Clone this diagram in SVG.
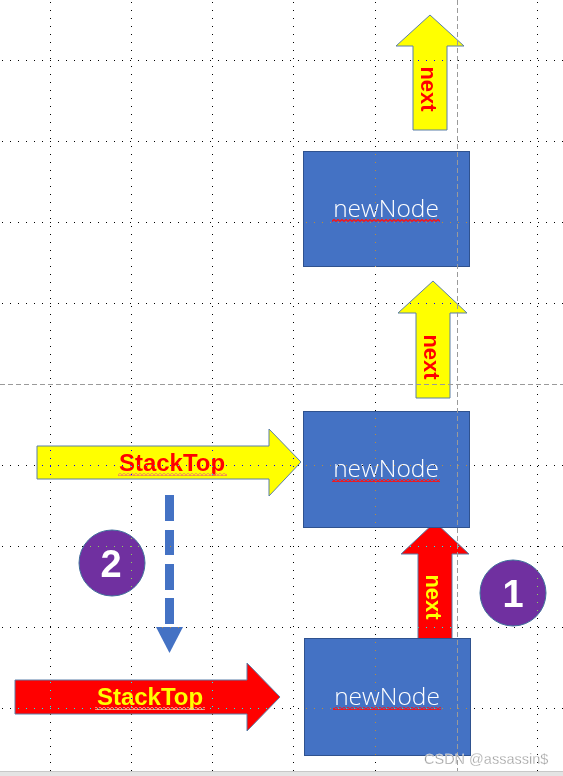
<svg xmlns="http://www.w3.org/2000/svg" width="563" height="776" viewBox="0 0 563 776">
<style>
.box{fill:#4472C4;stroke:#2F528F;stroke-width:1}
.node{font-family:"Open Sans","Noto Sans","Liberation Sans",sans-serif;font-weight:300;font-size:24.5px;fill:#fff;text-anchor:middle}
.arr{stroke:#5B7FA8;stroke-width:1}
.yel{fill:#FFFF00}
.red{fill:#FF0000}
.lbl{font-family:"Liberation Sans",Arial,sans-serif;font-weight:bold;text-anchor:middle}
.grid{stroke:#fff;stroke-width:1;stroke-dasharray:1 7;mix-blend-mode:difference}
.guide{stroke:#9a9a9a;stroke-width:1;stroke-dasharray:5 3;fill:none}
.num{font-family:"Liberation Sans",Arial,sans-serif;font-weight:bold;font-size:38px;fill:#fff;text-anchor:middle}
</style>
<defs>
<pattern id="wavyR" patternUnits="userSpaceOnUse" width="4" height="3"><path d="M0,2.5 L2,0.5 L4,2.5" stroke="#FF1010" stroke-width="1.3" fill="none"/></pattern>
<pattern id="wavyO" patternUnits="userSpaceOnUse" width="4" height="3"><path d="M0,2.5 L2,0.5 L4,2.5" stroke="#F08060" stroke-width="1.1" fill="none"/></pattern>
<pattern id="wavyY" patternUnits="userSpaceOnUse" width="4" height="3"><path d="M0,2.5 L2,0.5 L4,2.5" stroke="#F8C0A0" stroke-width="1.1" fill="none"/></pattern>
</defs>
<rect x="0" y="0" width="563" height="776" fill="#fff"/>

<g id="connectors">
  <g id="next-top">
    <path class="arr yel" d="M413,130 L413,46 L396,46 L430,15 L464,46 L447,46 L447,130 Z"/>
    <text class="lbl" font-size="22" fill="#FF0000" transform="translate(428,89) rotate(90)" x="0" y="7">next</text>
  </g>
  <g id="next-mid">
    <path class="arr yel" d="M416,398 L416,313 L398,313 L433,281 L467,313 L450,313 L450,398 Z"/>
    <text class="lbl" font-size="22" fill="#FF0000" transform="translate(431,357) rotate(90)" x="0" y="7">next</text>
  </g>
  <g id="next-new">
    <path class="arr red" d="M418,640 L418,554 L401,554 L435,522 L469,554 L452,554 L452,640 Z"/>
    <text class="lbl" font-size="22" fill="#FFFF00" transform="translate(433,597) rotate(90)" x="0" y="7">next</text>
  </g>
  <g id="stacktop-old">
    <path class="arr yel" d="M37,446 L269,446 L269,429 L301,462 L269,496 L269,479 L37,479 Z"/>
    <text class="lbl" font-size="24" fill="#FF0000" x="172" y="471">StackTop</text>
    <rect x="118" y="473" width="109" height="3" fill="url(#wavyO)"/>
  </g>
  <g id="stacktop-new">
    <path class="arr red" d="M15,680 L247,680 L247,663 L280,697 L247,731 L247,714 L15,714 Z"/>
    <text class="lbl" font-size="24" fill="#FFFF00" x="150" y="705">StackTop</text>
    <rect x="95" y="707" width="110" height="3" fill="url(#wavyY)"/>
  </g>
  <g id="move-down" fill="#4472C4">
    <rect x="165" y="495" width="9" height="26"/>
    <rect x="165" y="530" width="9" height="25"/>
    <rect x="165" y="564" width="9" height="26"/>
    <rect x="165" y="598" width="9" height="26"/>
    <path d="M156,627 L183,627 L169.5,653 Z"/>
  </g>
</g>

<g id="node-top">
  <rect class="box" x="303.5" y="151.5" width="166" height="115"/>
  <text class="node" x="386" y="217">newNode</text>
  <rect x="332" y="219" width="108" height="3" fill="url(#wavyR)"/>
</g>
<g id="node-mid">
  <rect class="box" x="303.5" y="411.5" width="166" height="116"/>
  <text class="node" x="386" y="477">newNode</text>
  <rect x="332" y="479" width="108" height="3" fill="url(#wavyR)"/>
</g>
<g id="node-bottom">
  <rect class="box" x="304.5" y="638.5" width="166" height="117"/>
  <text class="node" x="387" y="705">newNode</text>
  <rect x="333" y="707" width="108" height="3" fill="url(#wavyR)"/>
</g>

<g id="step1">
  <circle cx="513" cy="593" r="33" fill="#7030A0" stroke="#41719C" stroke-width="1"/>
  <text class="num" x="513" y="607">1</text>
</g>
<g id="step2">
  <circle cx="112" cy="563" r="33" fill="#7030A0" stroke="#41719C" stroke-width="1"/>
  <text class="num" x="111" y="577">2</text>
</g>

<g id="grid">
  <line class="grid" x1="50.5" y1="2" x2="50.5" y2="776"/>
  <line class="grid" x1="131.5" y1="2" x2="131.5" y2="776"/>
  <line class="grid" x1="212.5" y1="2" x2="212.5" y2="776"/>
  <line class="grid" x1="293.5" y1="2" x2="293.5" y2="776"/>
  <line class="grid" x1="375.5" y1="2" x2="375.5" y2="776"/>
  <line class="grid" x1="537.5" y1="2" x2="537.5" y2="776"/>
  <line class="grid" x1="2" y1="60.5" x2="563" y2="60.5"/>
  <line class="grid" x1="2" y1="141.5" x2="563" y2="141.5"/>
  <line class="grid" x1="2" y1="222.5" x2="563" y2="222.5"/>
  <line class="grid" x1="2" y1="303.5" x2="563" y2="303.5"/>
  <line class="grid" x1="2" y1="465.5" x2="563" y2="465.5"/>
  <line class="grid" x1="2" y1="546.5" x2="563" y2="546.5"/>
  <line class="grid" x1="2" y1="627.5" x2="563" y2="627.5"/>
  <line class="grid" x1="2" y1="708.5" x2="563" y2="708.5"/>
  <line class="guide" x1="457.5" y1="0" x2="457.5" y2="776"/>
  <line class="guide" x1="0" y1="384.5" x2="563" y2="384.5"/>
</g>

<rect x="0" y="772" width="563" height="4" fill="#e4e4e4"/>
<line x1="0" y1="771.5" x2="563" y2="771.5" stroke="#c8c8c8"/>
<text x="424" y="764" font-family="Liberation Sans,Arial,sans-serif" font-size="14.5" fill="#9a9a9a" stroke="#fff" stroke-width="0.3">CSDN @assassin$</text>
</svg>
